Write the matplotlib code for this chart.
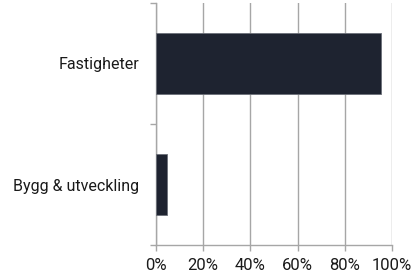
import matplotlib
matplotlib.use("Agg")
import matplotlib.pyplot as plt
from matplotlib.ticker import FixedLocator, PercentFormatter

categories = ["Bygg & utveckling", "Fastigheter"]
values = [4.5, 95.5]
xticks = [0, 20, 40, 60, 80, 100]

plt.rcParams['font.family'] = ['Roboto', 'DejaVu Sans']
fig = plt.figure(figsize=(4.14, 2.71), dpi=100)
ax = fig.add_axes([156/414, 26/271, 236/414, 242/271])
grey = "#a6a6a6"
ax.barh(range(len(categories)), values, height=0.5, color="#1e2330",
        edgecolor="#6b6f78", linewidth=0.6, zorder=3)
ax.set_xlim(0, 100)
ax.set_ylim(-0.5, len(categories) - 0.5)
ax.set_xticks(xticks)
ax.xaxis.set_major_formatter(PercentFormatter(decimals=0))
ax.set_yticks(range(len(categories)))
ax.set_yticklabels(categories)
ax.yaxis.set_minor_locator(FixedLocator([-0.5, 0.5, 1.5]))
ax.tick_params(axis='y', which='major', length=0, pad=12, labelsize=11.5, labelcolor="#1a1a1a")
ax.tick_params(axis='y', which='minor', length=4, color=grey, width=1)
ax.tick_params(axis='x', which='major', length=4, color=grey, width=1, pad=5,
               labelsize=12, labelcolor="#1a1a1a")
ax.grid(axis='x', color=grey, linewidth=1, zorder=0)
for s in ['top', 'right']:
    ax.spines[s].set_visible(False)
for s in ['left', 'bottom']:
    ax.spines[s].set_color(grey)
    ax.spines[s].set_linewidth(1)
fig.savefig("out.png", dpi=100)
